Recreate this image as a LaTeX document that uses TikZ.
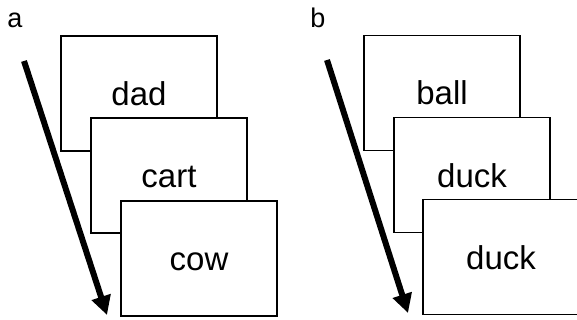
\documentclass[tikz,border=0pt]{standalone}
\usepackage{fontspec}
\setmainfont{Liberation Sans}
\usetikzlibrary{arrows.meta}
\begin{document}
\begin{tikzpicture}[x=1pt,y=-1pt,
  card/.style={draw=black, fill=white, line width=1.1pt, minimum width=156pt, minimum height=115pt,
    inner sep=0pt, font=\fontsize{33}{33}\selectfont, text height=24pt, text depth=0pt},
  panellabel/.style={font=\fontsize{27}{27}\selectfont, anchor=base, inner sep=0pt},
  timearrow/.style={line width=6pt, -{Triangle[length=19pt, width=19pt]}}]
\useasboundingbox (0,0) rectangle (577,320);
% panel a
\node[panellabel] (la) at (15,28) {a};
\node[card] (a1) at (139,93.5) {dad};
\node[card] (a2) at (169,175.5) {cart};
\node[card] (a3) at (199,258.5) {cow};
\coordinate (as) at (24,61);
\coordinate (ae) at (107,315);
\draw[timearrow] (as) -- (ae);
% panel b
\node[panellabel] (lb) at (318,28) {b};
\node[card] (b1) at (442,93) {ball};
\node[card] (b2) at (472,175) {duck};
\node[card] (b3) at (501,257) {duck};
\coordinate (bs) at (327,60);
\coordinate (be) at (408,313);
\draw[timearrow] (bs) -- (be);
\end{tikzpicture}
\end{document}
